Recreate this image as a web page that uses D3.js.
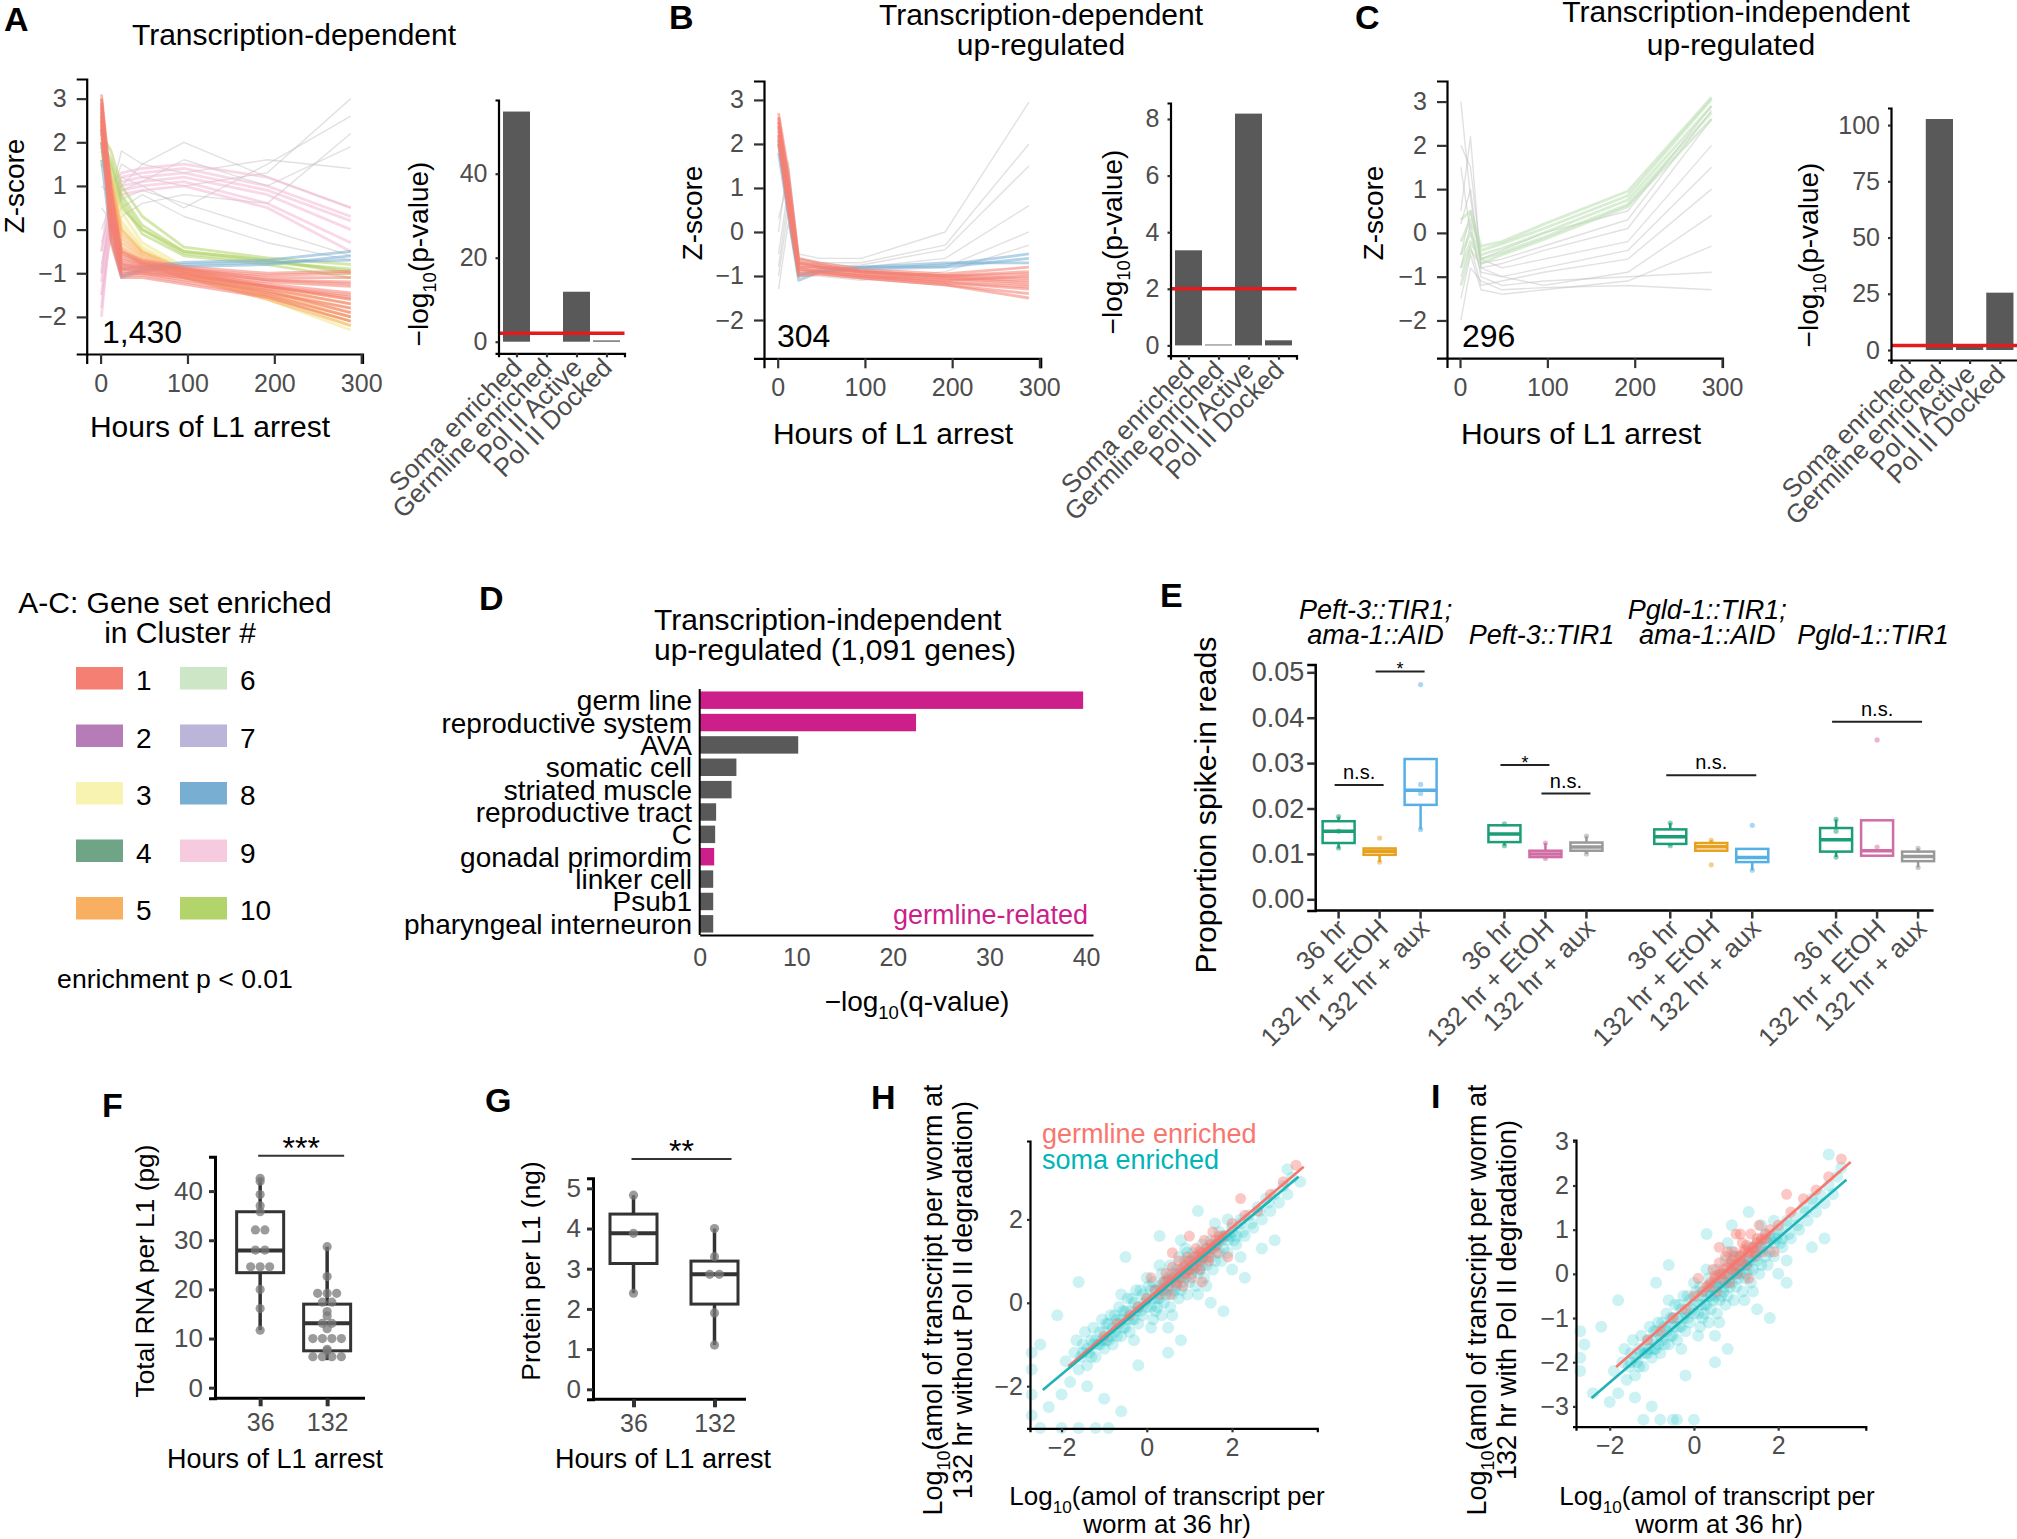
<!DOCTYPE html>
<meta charset="utf-8">
<style>
body { margin: 0; background: #fff; }
svg { display: block; font-family: "Liberation Sans", Arial, Helvetica, sans-serif; }
</style>
<svg width="2017" height="1539"></svg>
<script src="https://cdn.jsdelivr.net/npm/d3@7"></script>
<script>
// ---------------- data ----------------
var hours = [1, 12, 24, 48, 96, 192, 288];

// index = cluster #, 0 = cluster not enriched (grey)
var clusterColors = ["#bdbdbd", "#f47f72", "#b57cb8", "#f0e68c", "#6fa487", "#f9af62",
                     "#b9dcb0", "#bcb5da", "#79aed3", "#f4b8d3", "#b3d46a"];
var legendColors = ["", "#f47f72", "#b57cb8", "#f8f3b1", "#6fa487", "#f9af62",
                    "#cde6c5", "#bcb5da", "#79aed3", "#f6cbdf", "#b3d46a"];

// each line: [cluster, z-score at each of hours]
var linesA = [
  [0, -1.0, 0.5, 1.0, 1.5, 2.0, 1.2, 0.5],
  [0, -0.5, 0.8, 1.5, 1.2, 1.0, 1.3, 3.0],
  [0, 0.5, 0.2, 0.5, 0.8, 0.3, -0.3, -0.7],
  [0, -1.5, -0.2, 0.3, 0.6, 0.8, 0.6, 2.2],
  [0, 0.0, 0.6, 1.2, 1.0, 0.5, 1.5, 2.6],
  [0, -0.8, 0.3, 0.7, 0.9, 0.6, 0.0, -0.6],
  [0, 1.0, 0.8, 1.8, 1.5, 1.3, 1.6, 1.4],
  [0, -0.3, 0.4, 0.9, 1.1, 1.6, 1.0, 1.9],
  [9, -1.5, 0.5, 1.0, 1.1, 1.2, 0.8, 0.0],
  [9, -1.0, 0.8, 1.2, 1.3, 1.4, 1.0, 0.3],
  [9, -2.0, 0.3, 0.9, 1.0, 1.1, 0.6, -0.3],
  [9, -0.5, 1.0, 1.3, 1.4, 1.5, 1.2, 0.5],
  [9, -1.8, 0.2, 0.8, 0.9, 1.0, 0.5, -0.5],
  [9, -1.2, 0.6, 1.1, 1.2, 1.3, 0.9, 0.2],
  [10, 2.0, 1.6, 0.8, 0.1, -0.5, -0.7, -1.0],
  [10, 1.8, 1.4, 0.6, -0.1, -0.6, -0.8, -1.1],
  [10, 1.5, 1.2, 0.5, 0.0, -0.55, -0.75, -0.9],
  [10, 2.2, 1.8, 1.0, 0.3, -0.4, -0.65, -0.8],
  [10, 1.9, 1.5, 0.7, 0.0, -0.5, -0.7, -0.95],
  [3, 1.8, 1.1, 0.2, -0.4, -0.9, -1.5, -2.2],
  [3, 1.6, 0.9, 0.0, -0.5, -1.0, -1.6, -2.3],
  [3, 2.0, 1.3, 0.4, -0.3, -0.85, -1.45, -2.0],
  [3, 1.7, 1.0, 0.1, -0.45, -0.95, -1.55, -2.1],
  [5, 2.2, 1.0, -0.2, -0.6, -1.0, -1.4, -1.8],
  [5, 2.0, 0.8, -0.4, -0.7, -1.05, -1.5, -2.0],
  [5, 2.4, 1.2, 0.0, -0.5, -0.9, -1.3, -1.6],
  [5, 1.9, 0.6, -0.5, -0.8, -1.1, -1.55, -2.1],
  [5, 2.1, 0.9, -0.3, -0.65, -1.0, -1.45, -1.9],
  [5, 2.3, 1.1, -0.1, -0.55, -0.95, -1.35, -1.7],
  [5, 2.0, 0.7, -0.45, -0.75, -1.1, -1.6, -2.2],
  [8, 2.0, 0.2, -1.05, -0.9, -0.8, -0.75, -0.7],
  [8, 1.6, -0.2, -1.1, -0.95, -0.85, -0.8, -0.6],
  [8, 2.3, 0.4, -0.9, -0.85, -0.75, -0.7, -0.5],
  [1, 3.0, 0.6, -0.7, -0.8, -0.95, -1.2, -1.3],
  [1, 2.8, 0.3, -0.8, -0.9, -1.05, -1.3, -1.5],
  [1, 2.6, 0.1, -0.9, -0.95, -1.1, -1.35, -1.7],
  [1, 2.9, 0.8, -0.6, -0.75, -0.9, -1.1, -1.1],
  [1, 2.5, 0.0, -1.0, -1.0, -1.15, -1.4, -1.9],
  [1, 2.7, 0.4, -0.75, -0.85, -1.0, -1.25, -1.45],
  [1, 2.4, -0.2, -1.05, -1.05, -1.2, -1.5, -2.0],
  [1, 3.1, 1.0, -0.5, -0.7, -0.85, -1.0, -0.95],
  [1, 2.6, 0.2, -0.85, -0.9, -1.0, -1.3, -1.6],
  [1, 2.8, 0.5, -0.8, -0.85, -0.95, -1.15, -1.25],
  [1, 2.9, 0.7, -0.65, -0.8, -0.9, -1.15, -1.2],
  [1, 2.5, 0.1, -0.95, -1.0, -1.1, -1.45, -1.8],
  [1, 2.7, 0.3, -0.9, -0.95, -1.05, -1.3, -1.55],
  [1, 3.0, 0.9, -0.55, -0.75, -0.9, -1.05, -1.0],
  [1, 2.3, -0.3, -1.1, -1.1, -1.25, -1.55, -2.1]
];
var linesB = [
  [0, 0.0, 1.6, -0.5, -0.6, -0.6, 0.0, 2.95],
  [0, -0.5, 1.0, -0.6, -0.7, -0.7, -0.3, 2.0],
  [0, -1.0, 0.5, -0.7, -0.8, -0.75, -0.4, 1.5],
  [0, 0.3, 1.2, -0.6, -0.7, -0.8, -0.6, 0.6],
  [0, -0.8, 0.8, -0.8, -0.9, -0.9, -0.8, 0.0],
  [0, -1.3, 0.2, -1.0, -1.0, -1.1, -0.9, -0.3],
  [8, 2.0, 0.6, -1.0, -0.85, -0.8, -0.8, -0.6],
  [8, 1.8, 0.4, -1.1, -0.9, -0.85, -0.75, -0.5],
  [8, 2.1, 0.5, -0.95, -0.9, -0.8, -0.7, -0.7],
  [1, 2.6, 1.2, -0.7, -0.75, -0.9, -1.0, -0.9],
  [1, 2.4, 0.9, -0.8, -0.85, -0.95, -1.05, -1.1],
  [1, 2.2, 0.7, -0.9, -0.9, -1.0, -1.15, -1.3],
  [1, 2.7, 1.4, -0.6, -0.7, -0.85, -0.95, -0.8],
  [1, 2.0, 0.5, -1.0, -0.95, -1.05, -1.2, -1.5],
  [1, 2.5, 1.0, -0.75, -0.8, -0.95, -1.1, -1.2],
  [1, 2.3, 0.8, -0.85, -0.9, -1.0, -1.1, -1.0],
  [1, 2.6, 1.1, -0.7, -0.8, -0.9, -1.0, -1.05],
  [1, 2.4, 1.0, -0.8, -0.8, -0.9, -1.0, -0.95],
  [1, 2.2, 0.6, -0.95, -0.95, -1.05, -1.2, -1.4],
  [1, 2.5, 1.3, -0.65, -0.75, -0.9, -1.05, -1.15],
  [1, 2.1, 0.6, -0.85, -0.9, -1.0, -1.15, -1.25]
];
var linesC = [
  [0, 3.0, 0.8, -0.7, -0.6, -0.3, 0.3, 2.8],
  [0, 0.5, 2.2, -0.8, -0.7, -0.4, 0.1, 2.6],
  [0, -0.5, 0.5, -0.6, -0.8, -0.6, -0.2, 2.0],
  [0, 1.5, 0.0, -0.9, -1.0, -0.8, -0.4, 1.5],
  [0, -1.0, -0.3, -1.2, -1.1, -0.9, -0.6, 1.0],
  [0, 0.2, 1.0, -0.8, -1.0, -1.2, -0.9, 0.4],
  [0, -1.5, -0.5, -1.3, -1.4, -1.3, -1.1, -0.3],
  [0, -0.8, 0.2, -1.0, -1.2, -1.1, -1.0, -0.9],
  [0, 2.0, 1.5, -0.6, -0.4, 0.0, 0.5, 2.9],
  [0, -2.0, -0.8, -1.1, -1.3, -1.25, -1.2, -1.3],
  [6, -0.5, 0.0, -0.5, -0.35, 0.0, 0.75, 2.9],
  [6, -0.2, 0.3, -0.4, -0.25, 0.1, 0.85, 3.05],
  [6, -0.8, -0.2, -0.6, -0.45, -0.1, 0.65, 2.75],
  [6, 0.3, 0.5, -0.3, -0.2, 0.2, 0.95, 3.1],
  [6, -1.2, -0.4, -0.7, -0.5, -0.15, 0.6, 2.6]
];

var geneSets = ["Soma enriched", "Germline enriched", "Pol II Active", "Pol II Docked"];
var enrichA = [54.8, 0, 11.9, 0.3];
var enrichB = [3.36, 0.03, 8.19, 0.18];
var enrichC = [0, 102.7, 1.5, 25.5];
var pCutoff = 2;

var tissues = ["germ line", "reproductive system", "AVA", "somatic cell", "striated muscle",
               "reproductive tract", "C", "gonadal primordim", "linker cell", "Psub1",
               "pharyngeal interneuron"];
var tissueQ = [39.7, 22.4, 10.2, 3.8, 3.3, 1.7, 1.6, 1.5, 1.4, 1.4, 1.4];
var tissueGermline = [true, true, false, false, false, false, false, true, false, false, false];

var strainsE = [["Peft-3::TIR1;", "ama-1::AID"], ["Peft-3::TIR1"],
                ["Pgld-1::TIR1;", "ama-1::AID"], ["Pgld-1::TIR1"]];
var conditionsE = ["36 hr", "132 hr + EtOH", "132 hr + aux"];
var colorsE = [["#1b9e77", "#e6a11f", "#56b0e6"], ["#1b9e77", "#d16da5", "#999999"],
               ["#1b9e77", "#e6a11f", "#56b0e6"], ["#1b9e77", "#d16da5", "#999999"]];
// [strain, condition, lower whisker, q1, median, q3, upper whisker]
var boxesE = [
  [0, 0, .0112, .0124, .0150, .0172, .0182],
  [0, 1, .0082, .0098, .0106, .0112, .0113],
  [0, 2, .0154, .0208, .0240, .0309, .0309],
  [1, 0, .0118, .0126, .0144, .0163, .0166],
  [1, 1, .0090, .0093, .0100, .0107, .0124],
  [1, 2, .0100, .0107, .0115, .0125, .0139],
  [2, 0, .0118, .0122, .0138, .0154, .0168],
  [2, 1, .0107, .0107, .0116, .0124, .0130],
  [2, 2, .0064, .0082, .0092, .0111, .0111],
  [3, 0, .0093, .0105, .0131, .0157, .0176],
  [3, 1, .0096, .0096, .0107, .0174, .0174],
  [3, 2, .0070, .0084, .0094, .0105, .0112]
];
var pointsE = [
  [0, 0, .0182], [0, 0, .0113], [0, 0, .0150], [0, 1, .0135], [0, 1, .0082],
  [0, 2, .0473], [0, 2, .0253], [0, 2, .0233], [0, 2, .0154], [1, 0, .0166],
  [1, 0, .0118], [1, 1, .0124], [1, 1, .0090], [1, 2, .0139], [1, 2, .0100],
  [2, 0, .0168], [2, 0, .0118], [2, 1, .0076], [2, 1, .0130], [2, 2, .0163],
  [2, 2, .0064], [3, 0, .0176], [3, 0, .0093], [3, 0, .0150], [3, 1, .0351],
  [3, 1, .0115], [3, 2, .0112], [3, 2, .0070]
];
// [strain, from condition, to condition, value, label]
var sigE = [
  [0, 0, 1, .0252, "n.s."], [0, 1, 2, .0502, "*"], [1, 0, 1, .0296, "*"],
  [1, 1, 2, .0233, "n.s."], [2, 0, 2, .0273, "n.s."], [3, 0, 2, .0391, "n.s."]
];

var arrestHours = ["36", "132"];
var rnaPerL1 = [
  [42.6, 42.0, 39.3, 37.0, 35.8, 32.1, 32.1, 28.0, 28.0, 24.6, 24.6, 24.6, 20.0, 16.1, 11.7],
  [28.7, 22.6, 19.2, 19.2, 19.2, 17.4, 17.4, 15.5, 14.6, 13.1, 13.1, 12.0, 10.0, 10.0, 10.0,
   10.0, 7.8, 7.5, 6.3, 6.3, 6.3, 6.3]
];
var rnaBoxes = [[11.7, 23.4, 27.9, 35.8, 42.6], [5.6, 7.5, 13.1, 17.0, 28.7]];
var proteinPerL1 = [[4.83, 3.88, 2.39], [4.0, 3.3, 2.86, 2.86, 1.9, 1.1]];
var proteinBoxes = [[2.39, 3.13, 3.88, 4.36, 4.83], [1.1, 2.12, 2.86, 3.19, 4.0]];

// log10 amol per worm: "x y" pairs (36 hr, 132 hr)
var somaH = "0.0 -0.1, 0.1 0.3, 0.2 -0.2, 0.3 0.4, 0.4 0.0, 0.5 0.6, 0.6 0.2, 0.7 0.8, 0.8 0.3, 0.9 1.0, 1.0 0.5, 1.1 1.2, 1.2 0.7, 1.3 1.4, 1.4 0.9, 1.5 1.5, 1.6 1.0, 1.7 1.7, 1.8 1.3, 0.05 0.4, 0.15 -0.4, 0.25 0.1, 0.35 -0.3, 0.45 0.5, 0.55 -0.1, 0.65 0.6, 0.75 0.1, 0.85 0.7, 0.95 0.2, 1.05 0.9, 1.15 0.4, 1.25 1.0, 1.35 0.6, 1.45 1.2, 1.55 0.8, 1.65 1.4, 1.75 1.0, 1.85 1.6, -0.1 0.2, -0.2 -0.5, -0.3 0.0, -0.4 -0.7, -0.5 -0.2, -0.6 -0.8, -0.7 -0.4, -0.8 -1.0, -0.9 -0.5, -1.0 -1.1, -1.1 -0.7, -1.2 -1.3, -1.3 -0.9, -1.4 -1.5, -1.5 -1.0, -1.6 -1.6, -1.7 -1.2, -1.8 -1.9, -1.9 -1.4, -2.0 -2.2, -0.15 -0.2, -0.25 0.3, -0.35 -0.4, -0.45 0.1, -0.55 -0.6, -0.65 -0.1, -0.75 -0.7, -0.85 -0.3, -0.95 -0.9, -1.05 -0.4, -1.15 -1.0, -1.25 -0.6, -1.35 -1.2, -1.45 -0.7, -1.55 -1.3, -1.65 -0.9, 1.9 1.2, 2.0 1.8, 2.1 1.4, 2.2 2.0, 2.3 1.6, 2.4 2.1, 2.5 1.8, 2.6 2.3, 2.7 2.0, 2.8 2.5, 2.9 2.2, 3.0 2.6, 3.1 2.4, 3.2 2.8, 3.3 2.6, 3.4 3.0, 2.05 1.5, 2.25 1.7, 2.45 1.9, 2.65 2.2, 2.85 2.4, -2.1 -0.3, -1.6 0.5, -0.5 1.1, 0.3 1.6, 1.2 2.2, 2.3 0.6, 3.0 1.5, 1.8 -0.2, 0.8 -0.9, -0.2 -1.5, -1.0 -2.3, -0.6 -2.6, -1.4 -2.0, 2.7 1.3, 3.6 2.9, 3.3 3.2, -2.3 -2.5, -2.5 -1.0, -2.7 -1.6, -2.7 -2.2, -2.7 -2.7, -2.7 -1.2, -2.5 -3.0, -2.0 -3.0, -1.6 -3.0, -1.2 -3.0, -0.9 -3.0, 0.5 -1.2, 1.5 0.0, 2.0 0.8, 0.3 0.9, 0.6 -0.3, 0.9 1.3, 1.2 0.2, 0.0 0.6, -0.3 -0.9, 0.7 0.5, 1.0 0.8, 1.3 1.1, 0.4 0.3, 0.1 -0.6, -0.6 0.2, 1.6 1.9, 1.4 0.4, 1.9 2.0, 2.2 1.1, 0.8 1.5, 0.5 -0.6, -1.5 -1.2, -1.4 -1.1, -1.3 -1.3, -1.2 -0.9, -1.1 -1.0, -1.0 -0.7, -0.9 -0.9, -0.8 -0.6, -0.7 -0.8, -0.6 -0.4, -0.5 -0.6, -0.4 -0.2, -0.3 -0.4, -0.2 -0.1, -0.1 -0.3, 0.0 0.1, 0.1 -0.1, 0.2 0.3, 0.3 0.1, 0.4 0.5, 0.5 0.3, 0.6 0.7, 0.7 0.4, 0.8 0.8, 0.9 0.6, 1.0 1.0, 1.1 0.8, 1.2 1.1, 1.3 0.9, 1.4 1.3, 1.5 1.1, 1.6 1.4, 1.7 1.2, 1.8 1.6, 1.9 1.5, 2.0 1.7, 2.1 1.6, 2.2 1.9, -1.25 -1.0, -1.05 -0.9, -0.85 -0.8, -0.65 -0.5, -0.45 -0.4, -0.25 -0.2, -0.05 0.0, 0.15 0.1, 0.35 0.3, 0.55 0.5, 0.75 0.6, 0.95 0.8, 1.15 1.0, 1.35 1.1, 1.55 1.3, 1.75 1.5, 1.95 1.6, 0.25 -0.1, 0.45 0.2, 0.65 0.3, 0.85 0.5, 1.05 0.7, 1.25 0.8, 0.15 0.5, 0.35 0.7, 0.55 0.9, 0.75 1.1, 0.95 1.2, -0.35 0.1, -0.15 0.3, -0.55 -0.2, -0.75 -0.3, -0.95 -0.5";
var germH = "0.2 0.3, 0.3 0.2, 0.4 0.5, 0.5 0.4, 0.6 0.6, 0.7 0.7, 0.8 0.6, 0.9 0.9, 1.0 0.8, 1.1 1.1, 1.2 1.0, 1.3 1.2, 1.4 1.3, 1.5 1.3, 1.6 1.5, 1.7 1.6, 1.8 1.6, 2.0 1.9, 0.45 0.7, 0.55 0.2, 0.75 1.0, 0.85 0.4, 0.95 1.1, 1.05 0.6, 1.15 1.3, 1.25 0.8, 1.35 1.5, 1.45 1.0, 1.55 1.7, 1.65 1.2, 0.0 0.1, -0.2 -0.1, -0.4 -0.3, -0.7 -0.5, -1.0 -0.8, 2.3 2.1, 2.6 2.2, 2.9 2.6, 3.2 2.9, 3.5 3.3, 1.0 1.6, 1.9 1.1, 0.6 1.2, 2.2 2.5, 0.1 0.6, 1.3 0.5, 0.35 0.35, 0.5 0.55, 0.65 0.5, 0.8 0.75, 0.9 0.7, 1.0 1.0, 1.1 0.9, 1.2 1.15, 1.3 1.05, 1.4 1.2, 1.5 1.4, 1.6 1.35, 1.7 1.5, 0.6 0.85, 0.7 0.45, 0.95 0.75, 1.25 1.25, 1.45 1.1, 1.15 0.85, 0.85 0.85";
var somaI = "0.0 -0.9, 0.1 -0.5, 0.2 -1.0, 0.3 -0.4, 0.4 -0.8, 0.5 -0.2, 0.6 -0.6, 0.7 0.0, 0.8 -0.5, 0.9 0.2, 1.0 -0.3, 1.1 0.4, 1.2 -0.1, 1.3 0.6, 1.4 0.1, 1.5 0.7, 1.6 0.2, 1.7 0.9, 1.8 0.5, 0.05 -0.4, 0.15 -1.2, 0.25 -0.7, 0.35 -1.1, 0.45 -0.3, 0.55 -0.9, 0.65 -0.2, 0.75 -0.7, 0.85 -0.1, 0.95 -0.6, 1.05 0.1, 1.15 -0.4, 1.25 0.2, 1.35 -0.2, 1.45 0.4, 1.55 0.0, 1.65 0.6, 1.75 0.2, 1.85 0.8, -0.1 -0.6, -0.2 -1.3, -0.3 -0.8, -0.4 -1.5, -0.5 -1.0, -0.6 -1.6, -0.7 -1.2, -0.8 -1.8, -0.9 -1.3, -1.0 -1.9, -1.1 -1.5, -1.2 -2.1, -1.3 -1.7, -1.4 -2.3, -1.5 -1.8, -1.6 -2.4, -1.7 -2.0, -1.8 -2.7, -1.9 -2.2, -2.0 -2.9, -0.15 -1.0, -0.25 -0.5, -0.35 -1.2, -0.45 -0.7, -0.55 -1.4, -0.65 -0.9, -0.75 -1.5, -0.85 -1.1, -0.95 -1.7, -1.05 -1.2, -1.15 -1.8, -1.25 -1.4, -1.35 -2.0, -1.45 -1.5, -1.55 -2.1, -1.65 -1.7, 1.9 0.4, 2.0 1.0, 2.1 0.6, 2.2 1.2, 2.3 0.8, 2.4 1.3, 2.5 1.0, 2.6 1.5, 2.7 1.2, 2.8 1.7, 2.9 1.4, 3.0 1.8, 3.1 1.6, 3.2 2.0, 3.3 1.8, 3.4 2.2, 2.05 0.7, 2.25 0.9, 2.45 1.1, 2.65 1.4, 2.85 1.6, -2.2 -1.2, -1.8 -0.6, -0.6 0.2, 0.3 0.9, 1.3 1.4, 2.2 -0.2, 3.1 0.8, 1.8 -1.0, 0.8 -1.7, -0.2 -2.3, -1.0 -3.0, -0.5 -3.3, -1.4 -2.8, 2.8 0.6, 3.5 2.4, 3.2 2.7, -2.4 -2.7, -2.6 -1.6, -2.7 -1.3, -2.7 -1.9, -2.7 -2.2, -1.2 -3.3, -0.8 -3.3, -0.4 -3.3, 0.0 -3.3, 0.5 -2.0, 1.5 -0.8, 2.0 0.0, -0.9 -0.2, 0.9 1.1, 0.3 0.1, 0.6 -1.1, 0.9 0.5, 1.2 -0.6, 0.0 -0.2, -0.3 -1.7, 0.7 -0.3, 1.0 0.0, 1.3 0.3, 0.4 -0.5, 0.1 -1.4, -0.6 -0.6, 1.6 1.1, 1.4 -0.4, 1.9 1.2, 2.2 0.3, 0.8 0.7, 0.5 -1.4, -1.5 -2.0, -1.4 -1.9, -1.3 -2.1, -1.2 -1.7, -1.1 -1.8, -1.0 -1.5, -0.9 -1.7, -0.8 -1.4, -0.7 -1.6, -0.6 -1.2, -0.5 -1.4, -0.4 -1.0, -0.3 -1.2, -0.2 -0.9, -0.1 -1.1, 0.0 -0.7, 0.1 -0.9, 0.2 -0.5, 0.3 -0.7, 0.4 -0.3, 0.5 -0.5, 0.6 -0.1, 0.7 -0.4, 0.8 0.0, 0.9 -0.2, 1.0 0.2, 1.1 0.0, 1.2 0.3, 1.3 0.1, 1.4 0.5, 1.5 0.3, 1.6 0.6, 1.7 0.4, 1.8 0.8, 1.9 0.7, 2.0 0.9, 2.1 0.8, 2.2 1.1, -1.25 -1.8, -1.05 -1.7, -0.85 -1.6, -0.65 -1.3, -0.45 -1.2, -0.25 -1.0, -0.05 -0.8, 0.15 -0.7, 0.35 -0.5, 0.55 -0.3, 0.75 -0.2, 0.95 0.0, 1.15 0.2, 1.35 0.3, 1.55 0.5, 1.75 0.7, 1.95 0.8, 0.25 -0.9, 0.45 -0.6, 0.65 -0.5, 0.85 -0.3, 1.05 -0.1, 1.25 0.0, 0.15 -0.3, 0.35 -0.1, 0.55 0.1, 0.75 0.3, 0.95 0.4, -0.35 -0.7, -0.15 -0.5, -0.55 -1.0, -0.75 -1.1, -0.95 -1.3";
var germI = "0.2 -0.4, 0.3 -0.3, 0.4 -0.2, 0.5 -0.1, 0.6 0.0, 0.7 0.1, 0.8 0.0, 0.9 0.3, 1.0 0.2, 1.1 0.4, 1.2 0.5, 1.3 0.5, 1.4 0.6, 1.5 0.7, 1.6 0.8, 1.7 0.8, 1.8 1.0, 2.0 1.1, 0.45 0.1, 0.55 -0.4, 0.75 0.4, 0.85 -0.2, 0.95 0.5, 1.05 0.0, 1.15 0.7, 1.25 0.2, 1.35 0.9, 1.45 0.4, 1.55 1.1, 1.65 0.5, 0.0 -0.5, -0.2 -0.8, -0.5 -1.0, -0.8 -1.3, -1.1 -1.5, 2.3 1.4, 2.6 1.7, 2.9 1.9, 3.2 2.2, 3.5 2.6, 1.0 0.9, 1.9 0.5, 0.6 0.6, 2.2 1.8, 0.1 -0.1, 1.3 -0.1, 0.8 0.5, 1.1 0.9, 0.35 -0.25, 0.5 -0.05, 0.65 0.0, 0.8 0.15, 0.9 0.1, 1.0 0.4, 1.1 0.3, 1.2 0.55, 1.3 0.45, 1.4 0.6, 1.5 0.8, 1.6 0.75, 1.7 0.9, 0.6 0.25, 0.7 -0.15, 0.95 0.15, 1.25 0.65, 1.45 0.5, 1.15 0.25, 0.85 0.25";
// fitted lines: [x0, y0, x1, y1]
var fitGermH = [-1.84, -1.52, 3.68, 3.26];
var fitSomaH = [-2.44, -2.09, 3.56, 3.02];
var fitGermI = [-1.85, -2.11, 3.72, 2.53];
var fitSomaI = [-2.43, -2.81, 3.62, 2.13];

// ---------------- helpers ----------------
var svg = d3.select("svg");
var GREY = "#4d4d4d";

function label(x, y, s, size, o) {
  o = o || {};
  var t = svg.append("text").attr("x", x).attr("y", y).attr("font-size", size)
    .attr("text-anchor", o.anchor || "start").attr("fill", o.fill || "#000").text(s);
  if (o.bold) t.attr("font-weight", "bold");
  if (o.italic) t.attr("font-style", "italic");
  return t;
}

function vlabel(x, y, s, size) {
  return svg.append("text").attr("transform", "translate(" + x + "," + y + ") rotate(-90)")
    .attr("text-anchor", "middle").attr("font-size", size).text(s);
}

// text with a subscript part, optionally rotated
function subLabel(x, y, size, pre, sub, post, rotate) {
  var t = svg.append("text").attr("font-size", size).attr("text-anchor", "middle")
    .attr("transform", "translate(" + x + "," + y + ")" + (rotate ? " rotate(-90)" : ""));
  t.append("tspan").text(pre);
  t.append("tspan").attr("font-size", size * 0.66).attr("dy", size * 0.3).text(sub);
  t.append("tspan").attr("dy", -size * 0.3).text(post);
  return t;
}

function dress(ax, fs, sw) {
  ax.attr("font-size", null).attr("font-family", null);
  ax.select(".domain").attr("stroke", "#000").attr("stroke-width", sw);
  ax.selectAll(".tick line").attr("stroke", "#333").attr("stroke-width", sw);
  ax.selectAll(".tick text").attr("fill", GREY).attr("font-size", fs);
}

function axisL(x0, y, ticks, fs, tsize, pad, fmt, sw) {
  var ax = svg.append("g").attr("transform", "translate(" + x0 + ",0)")
    .call(d3.axisLeft(y).tickValues(ticks).tickSizeOuter(0).tickSize(tsize).tickPadding(pad)
      .tickFormat(fmt || d3.format("d")));
  dress(ax, fs, sw || 2.2);
  return ax;
}

function axisB(y0, x, ticks, fs, tsize, pad, fmt, sw) {
  var a = d3.axisBottom(x).tickSizeOuter(0).tickSize(tsize).tickPadding(pad);
  if (ticks) a.tickValues(ticks);
  a.tickFormat(fmt || d3.format("d"));
  var ax = svg.append("g").attr("transform", "translate(0," + y0 + ")").call(a);
  dress(ax, fs, sw || 2.2);
  return ax;
}

function parsePairs(s) {
  return s.split(",").map(function(p) { return p.trim().split(/\s+/).map(Number); });
}

// ---------------- panel letters ----------------
[["A", 4, 31], ["B", 669, 29], ["C", 1355, 29], ["D", 479, 610], ["E", 1160, 607],
 ["F", 102, 1117], ["G", 485, 1112], ["H", 871, 1109], ["I", 1431, 1108]]
  .forEach(function(d) { label(d[1], d[2], d[0], 34, {bold: true}); });

// ---------------- A-C: z-score spaghetti ----------------
function linePanel(lines, xd, xr, yd, yr, count, countX) {
  var x = d3.scaleLinear().domain(xd).range(xr);
  var y = d3.scaleLinear().domain(yd).range(yr);
  var line = d3.line().x(function(d, i) { return x(hours[i]); }).y(function(d) { return y(d); });
  svg.append("g").selectAll("path").data(lines).join("path")
    .attr("d", function(d) { return line(d.slice(1)); })
    .attr("fill", "none")
    .attr("stroke", function(d) { return clusterColors[d[0]]; })
    .attr("stroke-width", function(d) { return d[0] ? 2.8 : 1.4; })
    .attr("stroke-opacity", function(d) { return d[0] ? 0.55 : 0.45; })
    .attr("stroke-linejoin", "round");
  axisL(xr[0], y, [-2, -1, 0, 1, 2, 3], 25, 10, 10);
  axisB(yr[0], x, [0, 100, 200, 300], 25, 10, 10);
  label(countX, yr[0] - 11, count, 32);
}
linePanel(linesA, [-16, 301.5], [86.7, 362.5], [-2.85, 3.45], [354, 79], "1,430", 102);
linePanel(linesB, [-15.7, 301.5], [764, 1040.7], [-2.87, 3.43], [358.3, 81], "304", 777);
linePanel(linesC, [-14.9, 300.5], [1447, 1722.5], [-2.86, 3.47], [358.1, 81], "296", 1462);

vlabel(24, 186, "Z-score", 28);
vlabel(702, 213, "Z-score", 28);
vlabel(1383, 213, "Z-score", 28);
label(210, 437, "Hours of L1 arrest", 30, {anchor: "middle"});
label(893, 444, "Hours of L1 arrest", 30, {anchor: "middle"});
label(1581, 444, "Hours of L1 arrest", 30, {anchor: "middle"});

label(294, 45, "Transcription-dependent", 30, {anchor: "middle"});
label(1041, 25, "Transcription-dependent", 30, {anchor: "middle"});
label(1041, 55, "up-regulated", 30, {anchor: "middle"});
label(1736, 22, "Transcription-independent", 30, {anchor: "middle"});
label(1731, 55, "up-regulated", 30, {anchor: "middle"});

// ---------------- A-C: enrichment bars ----------------
function enrichPanel(values, xr, yd, yr, ticks, ylabX, ylabY) {
  var x = d3.scalePoint().domain(geneSets).range(xr).padding(0.6);
  var y = d3.scaleLinear().domain(yd).range(yr);
  var w = x.step() * 0.9;
  svg.append("g").selectAll("rect").data(values).join("rect")
    .attr("x", function(d, i) { return x(geneSets[i]) - w / 2; })
    .attr("width", w)
    .attr("y", function(d) { return y(d); })
    .attr("height", function(d) { return y(0) - y(d); })
    .attr("fill", "#595959");
  svg.append("line").attr("x1", xr[0]).attr("x2", xr[1])
    .attr("y1", y(pCutoff)).attr("y2", y(pCutoff))
    .attr("stroke", "#e41a1c").attr("stroke-width", 3.5);
  axisL(xr[0], y, ticks, 25, 3, 8);
  axisB(yr[0], x, null, 25, 4, 4, function() { return ""; });
  svg.append("g").selectAll("text").data(geneSets).join("text")
    .attr("transform", function(d) {
      return "translate(" + (x(d) + 7) + "," + (yr[0] + 16) + ") rotate(-45)";
    })
    .attr("text-anchor", "end").attr("font-size", 26).attr("fill", GREY)
    .text(function(d) { return d; });
  subLabel(ylabX, ylabY, 28, "\u2212log", "10", "(p-value)", true);
}
enrichPanel(enrichA, [498.5, 624.5], [-2.76, 57.55], [353.3, 100], [0, 20, 40], 428, 254);
enrichPanel(enrichB, [1170.5, 1296.5], [-0.364, 8.565], [355.7, 103], [0, 2, 4, 6, 8], 1122, 242);
enrichPanel(enrichC, [1891, 2018], [-4.44, 107.6], [360, 108], [0, 25, 50, 75, 100], 1818, 255);

// ---------------- cluster legend ----------------
label(175, 613, "A-C: Gene set enriched", 30, {anchor: "middle"});
label(180, 643, "in Cluster #", 30, {anchor: "middle"});
var clusterIds = d3.range(1, 11);
var leg = svg.append("g").selectAll("g").data(clusterIds).join("g")
  .attr("transform", function(d, i) {
    return "translate(" + (76 + Math.floor(i / 5) * 104) + "," + (667 + (i % 5) * 57.5) + ")";
  });
leg.append("rect").attr("width", 47).attr("height", 22.5)
  .attr("fill", function(d) { return legendColors[d]; });
leg.append("text").attr("x", 60).attr("y", 23).attr("font-size", 28)
  .text(function(d) { return d; });
label(175, 988, "enrichment p < 0.01", 26.6, {anchor: "middle"});

// ---------------- D: tissue enrichment ----------------
var xD = d3.scaleLinear().domain([0, 40.72]).range([699.7, 1093]);
var yD = d3.scaleBand().domain(tissues).range([689, 935]).paddingInner(0.22).paddingOuter(0.11);
svg.append("g").selectAll("rect").data(tissueQ).join("rect")
  .attr("x", xD(0)).attr("width", function(d) { return xD(d) - xD(0); })
  .attr("y", function(d, i) { return yD(tissues[i]); })
  .attr("height", yD.bandwidth())
  .attr("fill", function(d, i) { return tissueGermline[i] ? "#cc1f8a" : "#595959"; });
axisB(935, xD, [0, 10, 20, 30, 40], 25, 0, 13);
svg.append("line").attr("x1", xD(0)).attr("x2", xD(0)).attr("y1", 689).attr("y2", 935)
  .attr("stroke", "#000").attr("stroke-width", 2);
svg.append("g").selectAll("text").data(tissues).join("text")
  .attr("x", 692).attr("y", function(d) { return yD(d) + yD.bandwidth() / 2 + 10; })
  .attr("text-anchor", "end").attr("font-size", 28).text(function(d) { return d; });
label(654, 630, "Transcription-independent", 30);
label(654, 660, "up-regulated (1,091 genes)", 30);
label(1088, 924, "germline-related", 27, {anchor: "end", fill: "#cc1f8a"});
subLabel(917, 1011, 28, "\u2212log", "10", "(q-value)", false);

// ---------------- E: spike-in proportion ----------------
var yE = d3.scaleLinear().domain([-0.00247, 0.0517]).range([910.5, 664.6]);
var gE = d3.scaleBand().domain([0, 1, 2, 3]).range([1296.7, 1960]);
var cE = d3.scalePoint().domain([0, 1, 2]).range([-41, 41]);
function xE(s, c) { return gE(s) + gE.bandwidth() / 2 + cE(c); }
axisL(1315.2, yE, [0, .01, .02, .03, .04, .05], 27, 8, 3, d3.format(".2f"), 2.5);
svg.append("line").attr("x1", 1315.2).attr("x2", 1933.6).attr("y1", 910.5).attr("y2", 910.5)
  .attr("stroke", "#000").attr("stroke-width", 2.5);
var slotsE = [];
[0, 1, 2, 3].forEach(function(s) { [0, 1, 2].forEach(function(c) { slotsE.push([s, c]); }); });
svg.append("g").selectAll("line").data(slotsE).join("line")
  .attr("x1", function(d) { return xE(d[0], d[1]); })
  .attr("x2", function(d) { return xE(d[0], d[1]); })
  .attr("y1", 910.5).attr("y2", 918.5).attr("stroke", "#333").attr("stroke-width", 2.5);
svg.append("g").selectAll("text").data(slotsE).join("text")
  .attr("transform", function(d) {
    return "translate(" + (xE(d[0], d[1]) + 10) + "," + (930) + ") rotate(-45)";
  })
  .attr("text-anchor", "end").attr("font-size", 26).attr("fill", GREY)
  .text(function(d) { return conditionsE[d[1]]; });

var bw = 32;
var boxE = svg.append("g").selectAll("g").data(boxesE).join("g")
  .attr("stroke", function(d) { return colorsE[d[0]][d[1]]; })
  .attr("fill", "none").attr("stroke-width", 2.5);
boxE.append("line")
  .attr("x1", function(d) { return xE(d[0], d[1]); }).attr("x2", function(d) { return xE(d[0], d[1]); })
  .attr("y1", function(d) { return yE(d[2]); }).attr("y2", function(d) { return yE(d[3]); });
boxE.append("line")
  .attr("x1", function(d) { return xE(d[0], d[1]); }).attr("x2", function(d) { return xE(d[0], d[1]); })
  .attr("y1", function(d) { return yE(d[5]); }).attr("y2", function(d) { return yE(d[6]); });
boxE.append("rect")
  .attr("x", function(d) { return xE(d[0], d[1]) - bw / 2; }).attr("width", bw)
  .attr("y", function(d) { return yE(d[5]); })
  .attr("height", function(d) { return yE(d[3]) - yE(d[5]); });
boxE.append("line")
  .attr("x1", function(d) { return xE(d[0], d[1]) - bw / 2; })
  .attr("x2", function(d) { return xE(d[0], d[1]) + bw / 2; })
  .attr("y1", function(d) { return yE(d[4]); }).attr("y2", function(d) { return yE(d[4]); })
  .attr("stroke-width", 3.5);
svg.append("g").selectAll("circle").data(pointsE).join("circle")
  .attr("cx", function(d) { return xE(d[0], d[1]); })
  .attr("cy", function(d) { return yE(d[2]); })
  .attr("r", 2.6).attr("fill", function(d) { return colorsE[d[0]][d[1]]; })
  .attr("fill-opacity", 0.5);
var sig = svg.append("g").selectAll("g").data(sigE).join("g");
sig.append("line")
  .attr("x1", function(d) { return xE(d[0], d[1]) - 4; })
  .attr("x2", function(d) { return xE(d[0], d[2]) + 4; })
  .attr("y1", function(d) { return yE(d[3]); }).attr("y2", function(d) { return yE(d[3]); })
  .attr("stroke", "#222").attr("stroke-width", 2);
sig.append("text")
  .attr("x", function(d) { return (xE(d[0], d[1]) + xE(d[0], d[2])) / 2; })
  .attr("y", function(d) { return yE(d[3]) + (d[4] === "*" ? 4 : -6); })
  .attr("text-anchor", "middle").attr("font-size", function(d) { return d[4] === "*" ? 18 : 20; })
  .text(function(d) { return d[4]; });
strainsE.forEach(function(lines, s) {
  var cx = gE(s) + gE.bandwidth() / 2 - 4;
  lines.forEach(function(t, k) {
    label(cx, 644 - (lines.length - 1 - k) * 25.5, t, 27, {anchor: "middle", italic: true});
  });
});
vlabel(1216, 805, "Proportion spike-in reads", 30.3);

// ---------------- F, G: per-L1 box plots ----------------
function boxPanel(values, boxes, xr, pad, yd, yr, ticks, axisRight, sigY, stars, ylab, ylabX, xlabX) {
  var x = d3.scalePoint().domain(arrestHours).range(xr).padding(pad);
  var y = d3.scaleLinear().domain(yd).range(yr);
  var w = 47;
  var g = svg.append("g").attr("stroke", "#333").attr("fill", "none");
  boxes.forEach(function(b, i) {
    var cx = x(arrestHours[i]);
    g.append("line").attr("x1", cx).attr("x2", cx).attr("y1", y(b[0])).attr("y2", y(b[1]))
      .attr("stroke-width", 3.5);
    g.append("line").attr("x1", cx).attr("x2", cx).attr("y1", y(b[3])).attr("y2", y(b[4]))
      .attr("stroke-width", 3.5);
    g.append("rect").attr("x", cx - w / 2).attr("width", w).attr("y", y(b[3]))
      .attr("height", y(b[1]) - y(b[3])).attr("stroke-width", 3);
    g.append("line").attr("x1", cx - w / 2).attr("x2", cx + w / 2)
      .attr("y1", y(b[2])).attr("y2", y(b[2])).attr("stroke-width", 4);
  });
  // dots side by side when values coincide
  var dots = [];
  values.forEach(function(vals, i) {
    var groups = d3.groups(vals, function(v) { return v; });
    groups.forEach(function(gr) {
      gr[1].forEach(function(v, k) {
        dots.push([x(arrestHours[i]) + (k - (gr[1].length - 1) / 2) * 9.5, y(v)]);
      });
    });
  });
  svg.append("g").selectAll("circle").data(dots).join("circle")
    .attr("cx", function(d) { return d[0]; }).attr("cy", function(d) { return d[1]; })
    .attr("r", 4.6).attr("fill", "#7a7a7a").attr("fill-opacity", 0.75);
  axisL(xr[0], y, ticks, 26, 6, 6, null, 3);
  svg.append("line").attr("x1", xr[0]).attr("x2", axisRight).attr("y1", yr[0]).attr("y2", yr[0])
    .attr("stroke", "#000").attr("stroke-width", 3);
  var ax = svg.append("g").attr("transform", "translate(0," + yr[0] + ")")
    .call(d3.axisBottom(x).tickSize(8).tickPadding(7).tickSizeOuter(0));
  dress(ax, 25, 4);
  ax.select(".domain").remove();
  var x0 = x(arrestHours[0]) - 2, x1 = x(arrestHours[1]) + 17;
  svg.append("line").attr("x1", x0).attr("x2", x1).attr("y1", sigY).attr("y2", sigY)
    .attr("stroke", "#333").attr("stroke-width", 2);
  label((x0 + x1) / 2, sigY + 3, stars, 32, {anchor: "middle"});
  vlabel(ylabX, 1271, ylab, 26.3);
  label(xlabX, 1468, "Hours of L1 arrest", 27, {anchor: "middle"});
}
boxPanel(rnaPerL1, rnaBoxes, [215, 372.3], 0.674, [-2.16, 47.0], [1398.3, 1156.7],
         [0, 10, 20, 30, 40], 365, 1155.7, "***", "Total RNA per L1 (pg)", 154, 275);
boxPanel(proteinPerL1, proteinBoxes, [593, 755], 0.5, [-0.249, 5.25], [1399.3, 1178.3],
         [0, 1, 2, 3, 4, 5], 746, 1159, "**", "Protein per L1 (ng)", 540, 663);

// ---------------- H, I: scatter ----------------
function scatterPanel(soma, germ, fitS, fitG, xd, xr, yd, yr, yticks) {
  var x = d3.scaleLinear().domain(xd).range(xr);
  var y = d3.scaleLinear().domain(yd).range(yr);
  svg.append("g").selectAll("circle").data(parsePairs(soma)).join("circle")
    .attr("cx", function(d) { return x(d[0]); }).attr("cy", function(d) { return y(d[1]); })
    .attr("r", 6).attr("fill", "#00bfc4").attr("fill-opacity", 0.2);
  svg.append("g").selectAll("circle").data(parsePairs(germ)).join("circle")
    .attr("cx", function(d) { return x(d[0]); }).attr("cy", function(d) { return y(d[1]); })
    .attr("r", 5.5).attr("fill", "#f8766d").attr("fill-opacity", 0.4);
  [[fitG, "#f8766d"], [fitS, "#1fb3b6"]].forEach(function(f) {
    svg.append("line").attr("x1", x(f[0][0])).attr("y1", y(f[0][1]))
      .attr("x2", x(f[0][2])).attr("y2", y(f[0][3]))
      .attr("stroke", f[1]).attr("stroke-width", 2.6);
  });
  axisL(xr[0], y, yticks, 25, 3, 4);
  axisB(yr[0], x, [-2, 0, 2], 25, 4, 6);
}
scatterPanel(somaH, germH, fitSomaH, fitGermH, [-2.74, 4.0], [1030, 1317.3],
             [-3.01, 3.88], [1428.3, 1141], [-2, 0, 2]);
scatterPanel(somaI, germI, fitSomaI, fitGermI, [-2.8, 4.08], [1576, 1865.8],
             [-3.46, 3.03], [1426.7, 1140], [-3, -2, -1, 0, 1, 2, 3]);

label(1042, 1143, "germline enriched", 27, {fill: "#f8766d"});
label(1042, 1169, "soma enriched", 27, {fill: "#00b5b9"});

subLabel(942, 1300, 27, "Log", "10", "(amol of transcript per worm at", true);
vlabel(972, 1300, "132 hr without Pol II degradation)", 27);
subLabel(1486, 1300, 27, "Log", "10", "(amol of transcript per worm at", true);
vlabel(1516, 1300, "132 hr with Pol II degradation)", 27);

subLabel(1167, 1505, 26, "Log", "10", "(amol of transcript per", false);
label(1167, 1533, "worm at 36 hr)", 26, {anchor: "middle"});
subLabel(1717, 1505, 26, "Log", "10", "(amol of transcript per", false);
label(1719, 1533, "worm at 36 hr)", 26, {anchor: "middle"});
</script>
